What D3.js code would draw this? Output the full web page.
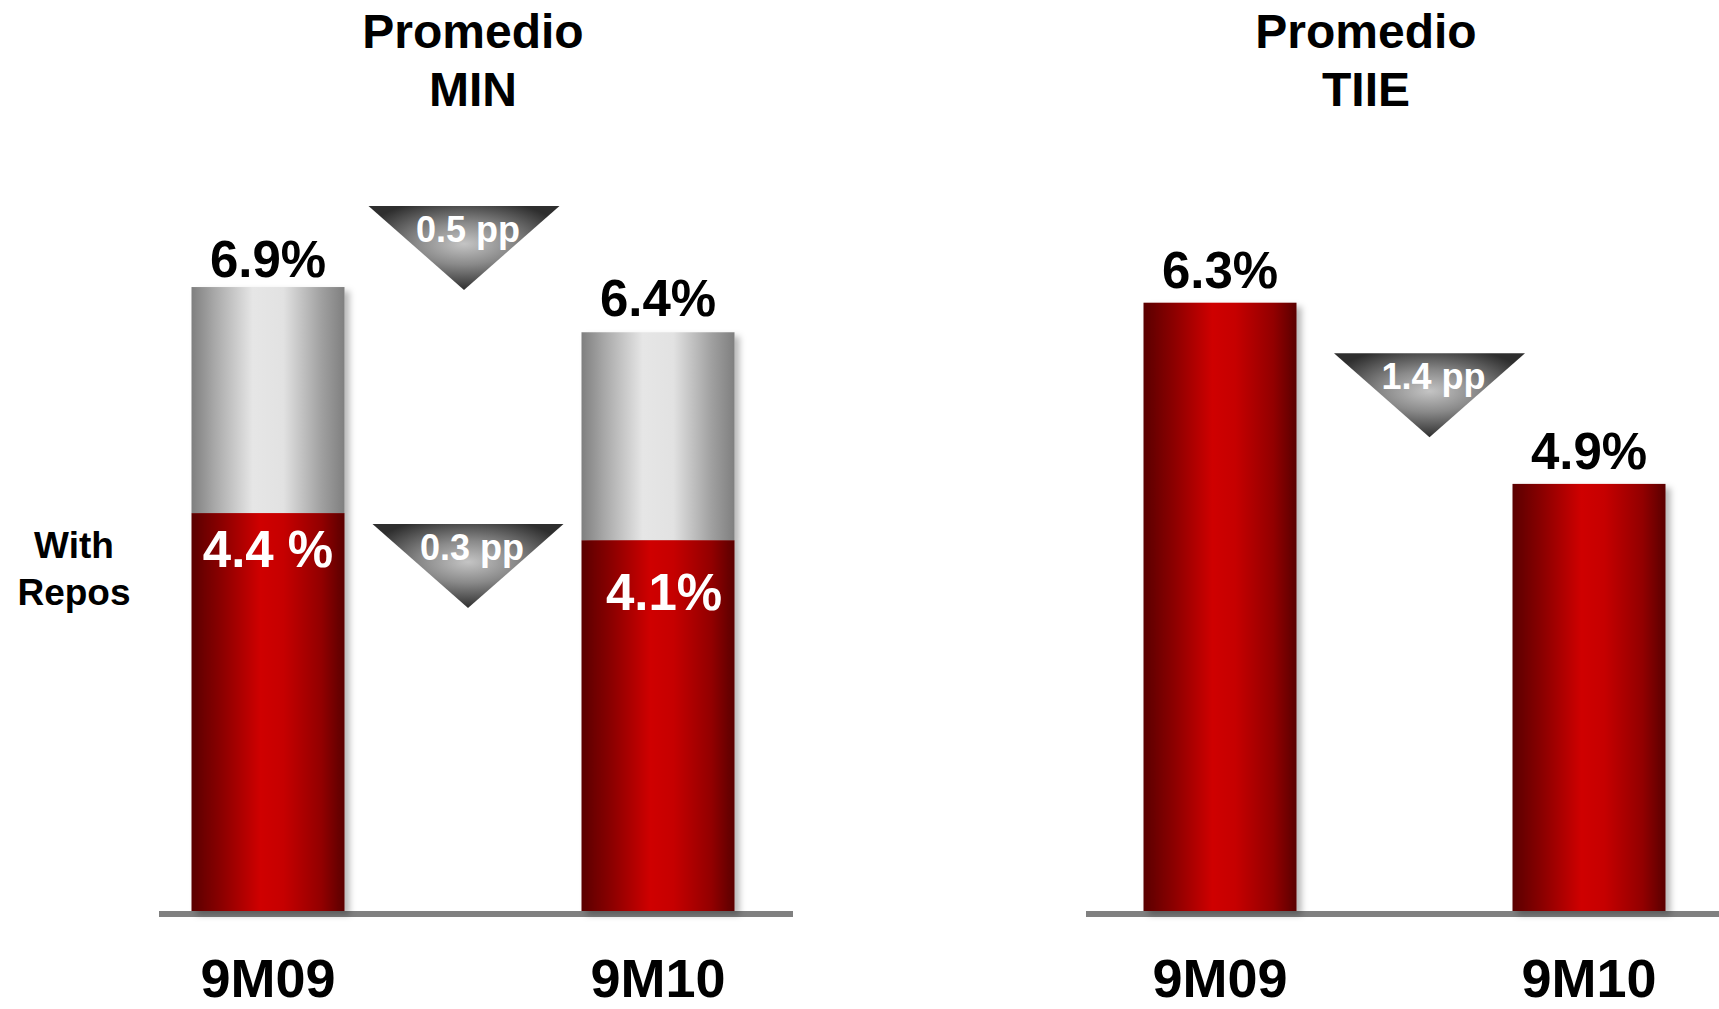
<!DOCTYPE html>
<html>
<head>
<meta charset="utf-8">
<script src="https://cdn.jsdelivr.net/npm/d3@7"></script>
<style>
  html, body { margin: 0; padding: 0; background: #ffffff; }
  svg { display: block; }
  text { font-family: "Liberation Sans", Arial, Helvetica, sans-serif; font-weight: bold; }
</style>
</head>
<body>
<div id="chart"></div>
<script>
// ---------- data ----------
const minCategories = ["9M09", "9M10"];
const minReposValues = [4.4, 4.1];
const minTotalValues = [6.9, 6.4];
const minReposLabels = ["4.4 %", "4.1%"];
const minTotalLabels = ["6.9%", "6.4%"];

const tiieCategories = ["9M09", "9M10"];
const tiieValues = [6.3, 4.9];
const tiieLabels = ["6.3%", "4.9%"];

const deltaLabels = ["0.5 pp", "0.3 pp", "1.4 pp"];
const minTitle = ["Promedio", "MIN"];
const tiieTitle = ["Promedio", "TIIE"];
const sideLabel = ["With", "Repos"];

// ---------- setup ----------
const W = 1719, H = 1009;
const svg = d3.select("#chart").append("svg").attr("width", W).attr("height", H);
const defs = svg.append("defs");

function linGrad(id, stops) {
  const g = defs.append("linearGradient").attr("id", id)
    .attr("x1", "0%").attr("x2", "100%").attr("y1", "0%").attr("y2", "0%");
  stops.forEach(s => g.append("stop").attr("offset", s[0]).attr("stop-color", s[1]));
}
linGrad("redGrad", [["0%", "#5a0000"], ["20%", "#8c0000"], ["45%", "#cf0000"], ["60%", "#c60000"], ["85%", "#920000"], ["100%", "#5a0000"]]);
linGrad("grayGrad", [["0%", "#7f7f7f"], ["15%", "#a8a8a8"], ["40%", "#e6e6e6"], ["60%", "#e2e2e2"], ["85%", "#a0a0a0"], ["100%", "#7f7f7f"]]);

const rg = defs.append("radialGradient").attr("id", "triGrad")
  .attr("cx", "50%").attr("cy", "45%").attr("r", "55%");
rg.append("stop").attr("offset", "0%").attr("stop-color", "#c4c4c4");
rg.append("stop").attr("offset", "45%").attr("stop-color", "#8a8a8a");
rg.append("stop").attr("offset", "100%").attr("stop-color", "#2e2e2e");

const filt = defs.append("filter").attr("id", "shadow")
  .attr("x", "-20%").attr("y", "-10%").attr("width", "150%").attr("height", "130%");
filt.append("feDropShadow").attr("dx", 5).attr("dy", 4).attr("stdDeviation", 3)
  .attr("flood-color", "#000").attr("flood-opacity", 0.28);

const baseY = 911;
const barW = 153;

// ---------- scales ----------
const xMin = d3.scalePoint().domain(minCategories).range([268, 658]);
const yMin = d3.scaleLinear().domain([0, 7]).range([baseY, baseY - 633]);
const xTiie = d3.scalePoint().domain(tiieCategories).range([1220, 1589]);
const yTiie = d3.scaleLinear().domain([1.6, 6.3]).range([baseY, 302.7]);

// ---------- axis lines ----------
function axisLine(x0, x1) {
  svg.append("line").attr("x1", x0).attr("x2", x1)
    .attr("y1", baseY + 3).attr("y2", baseY + 3)
    .attr("stroke", "#808080").attr("stroke-width", 6);
}
axisLine(159, 793);
axisLine(1086, W);

// ---------- MIN panel bars ----------
const minData = minCategories.map((c, i) => ({
  cat: c, repos: minReposValues[i], total: minTotalValues[i],
  reposLabel: minReposLabels[i], totalLabel: minTotalLabels[i]
}));

const gMin = svg.append("g").attr("filter", "url(#shadow)");
const minBar = gMin.selectAll("g.bar").data(minData).join("g").attr("class", "bar");
minBar.append("rect")
  .attr("x", d => xMin(d.cat) - barW / 2).attr("width", barW)
  .attr("y", d => yMin(d.total)).attr("height", d => yMin(d.repos) - yMin(d.total))
  .attr("fill", "url(#grayGrad)");
minBar.append("rect")
  .attr("x", d => xMin(d.cat) - barW / 2).attr("width", barW)
  .attr("y", d => yMin(d.repos)).attr("height", d => yMin(0) - yMin(d.repos))
  .attr("fill", "url(#redGrad)");

const totalLabelGap = [10, 16];
svg.selectAll("text.minTotal").data(minData).join("text").attr("class", "minTotal")
  .attr("x", d => xMin(d.cat)).attr("y", (d, i) => yMin(d.total) - totalLabelGap[i])
  .attr("text-anchor", "middle").attr("font-size", 51).attr("fill", "#000")
  .text(d => d.totalLabel);

const reposLabelGap = [54, 70];
svg.selectAll("text.minRepos").data(minData).join("text").attr("class", "minRepos")
  .attr("x", (d, i) => xMin(d.cat) + (i === 1 ? 6 : 0)).attr("y", (d, i) => yMin(d.repos) + reposLabelGap[i])
  .attr("text-anchor", "middle").attr("font-size", 51).attr("fill", "#fff")
  .text(d => d.reposLabel);

// ---------- TIIE panel bars ----------
const tiieData = tiieCategories.map((c, i) => ({ cat: c, v: tiieValues[i], label: tiieLabels[i] }));
const gT = svg.append("g").attr("filter", "url(#shadow)");
gT.selectAll("rect").data(tiieData).join("rect")
  .attr("x", d => xTiie(d.cat) - barW / 2).attr("width", barW)
  .attr("y", d => yTiie(d.v)).attr("height", d => yTiie.range()[0] - yTiie(d.v))
  .attr("fill", "url(#redGrad)");

svg.selectAll("text.tiieVal").data(tiieData).join("text").attr("class", "tiieVal")
  .attr("x", d => xTiie(d.cat)).attr("y", d => yTiie(d.v) - 15)
  .attr("text-anchor", "middle").attr("font-size", 51).attr("fill", "#000")
  .text(d => d.label);

// ---------- category labels ----------
function catLabels(cats, xs) {
  svg.append("g").selectAll("text").data(cats).join("text")
    .attr("x", d => xs(d)).attr("y", 997)
    .attr("text-anchor", "middle").attr("font-size", 54).attr("fill", "#000")
    .text(d => d);
}
catLabels(minCategories, xMin);
catLabels(tiieCategories, xTiie);

// ---------- delta triangles ----------
const triW = 191, triH = 84;
const midMin = (xMin(minCategories[0]) + xMin(minCategories[1])) / 2;
const midTiie = (xTiie(tiieCategories[0]) + xTiie(tiieCategories[1])) / 2;
const triangles = [
  { cx: midMin + 1, top: 206, label: deltaLabels[0] },
  { cx: midMin + 5, top: yMin(minReposValues[0]) + 11, label: deltaLabels[1] },
  { cx: midTiie + 25, top: (yTiie(tiieValues[0]) + yTiie(tiieValues[1])) / 2 - 40, label: deltaLabels[2] }
];
const gTri = svg.append("g");
gTri.selectAll("path").data(triangles).join("path")
  .attr("d", d => `M${d.cx - triW / 2},${d.top} L${d.cx + triW / 2},${d.top} L${d.cx},${d.top + triH} Z`)
  .attr("fill", "url(#triGrad)");
gTri.selectAll("text").data(triangles).join("text")
  .attr("x", d => d.cx + 4).attr("y", d => d.top + 36)
  .attr("text-anchor", "middle").attr("font-size", 36).attr("fill", "#fff")
  .text(d => d.label);

// ---------- titles ----------
function title(lines, cx) {
  svg.append("g").selectAll("text").data(lines).join("text")
    .attr("x", cx).attr("y", (d, i) => 48 + i * 58)
    .attr("text-anchor", "middle").attr("font-size", 48).attr("fill", "#000")
    .text(d => d);
}
title(minTitle, 473);
title(tiieTitle, 1366);

// ---------- side label ----------
svg.append("g").selectAll("text").data(sideLabel).join("text")
  .attr("x", 74).attr("y", (d, i) => 558 + i * 47)
  .attr("text-anchor", "middle").attr("font-size", 37).attr("fill", "#000")
  .text(d => d);
</script>
</body>
</html>
